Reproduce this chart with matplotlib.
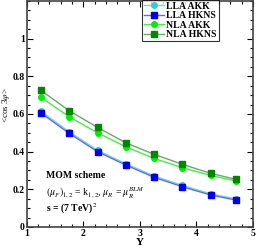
import matplotlib
matplotlib.use("Agg")
import matplotlib.pyplot as plt
from matplotlib.ticker import MultipleLocator

Y = [1.25, 1.75, 2.25, 2.75, 3.25, 3.75, 4.25, 4.7]
lla_akk = [0.614, 0.505, 0.407, 0.336, 0.271, 0.221, 0.176, 0.149]
lla_hkns = [0.605, 0.497, 0.400, 0.329, 0.264, 0.214, 0.170, 0.143]
nla_akk = [0.688, 0.585, 0.500, 0.426, 0.364, 0.315, 0.274, 0.244]
nla_hkns = [0.725, 0.617, 0.529, 0.447, 0.386, 0.333, 0.285, 0.253]

plt.rcParams['font.family'] = ['Liberation Serif', 'DejaVu Serif']
plt.rcParams['mathtext.fontset'] = 'stix'

fig = plt.figure(figsize=(2.56, 2.47), dpi=100)
ax = fig.add_axes([0.105, 0.081, 0.883, 0.915])

ax.plot(Y, lla_akk, '-o', color='#66dddd', mfc='#33cccc', mec='#33cccc', ms=4, lw=1, label='LLA AKK')
ax.plot(Y, lla_hkns, '-s', color='#6666ee', mfc='#0000ee', mec='#0000ee', ms=4, lw=1, label='LLA HKNS')
ax.plot(Y, nla_akk, '-o', color='#44ee44', mfc='#00ee00', mec='#00ee00', ms=4, lw=1, label='NLA AKK')
ax.plot(Y, nla_hkns, '-s', color='#66aa66', mfc='#008800', mec='#008800', ms=4, lw=1, label='NLA HKNS')

ax.set_xlim(1, 5)
ax.set_ylim(0, 1.2)
ax.xaxis.set_major_locator(MultipleLocator(1))
ax.xaxis.set_minor_locator(MultipleLocator(0.2))
ax.yaxis.set_major_locator(MultipleLocator(0.2))
ax.yaxis.set_minor_locator(MultipleLocator(0.05))
ax.set_yticks([0, 0.2, 0.4, 0.6, 0.8, 1.0])
ax.set_yticklabels(['0', '0.2', '0.4', '0.6', '0.8', '1'])
ax.set_xticks([1, 2, 3, 4, 5])
ax.set_xticklabels(['1', '2', '3', '4', '5'])
ax.tick_params(which='both', direction='in', top=True, right=True, labelsize=7, width=0.8, pad=1.5)
ax.tick_params(which='major', length=4)
ax.tick_params(which='minor', length=2)
for lab in ax.get_xticklabels() + ax.get_yticklabels():
    lab.set_fontweight('bold')
for s in ax.spines.values():
    s.set_linewidth(1.2)
    s.set_color('#444444')

ax.set_xlabel('Y', fontsize=8, fontweight='bold', labelpad=0)
ax.set_ylabel(r'<cos 3$\varphi$>', fontsize=6.5)
ax.yaxis.set_label_coords(-0.065, 0.54)

ax.text(1.33, 0.276, 'MOM scheme', fontsize=7, fontweight='bold', va='center')
ax.text(1.33, 0.18, r'$(\mu_F)_{1,2}$ = k$_{1,2}$, $\mu_R$ = $\mu_R^{BLM}$', fontsize=7, va='center')
ax.text(1.33, 0.095, r's = (7 TeV)$^2$', fontsize=7, fontweight='bold', va='center')

leg = ax.legend(loc='upper left', bbox_to_anchor=(0.51, 1.005), fontsize=7,
                prop={'weight': 'bold', 'size': 7}, frameon=True, fancybox=False,
                borderpad=0.2, labelspacing=0.05, handlelength=2.0, handletextpad=0.3,
                borderaxespad=0)
leg.get_frame().set_edgecolor('black')
leg.get_frame().set_linewidth(0.8)

fig.savefig('out.png', dpi=100)
